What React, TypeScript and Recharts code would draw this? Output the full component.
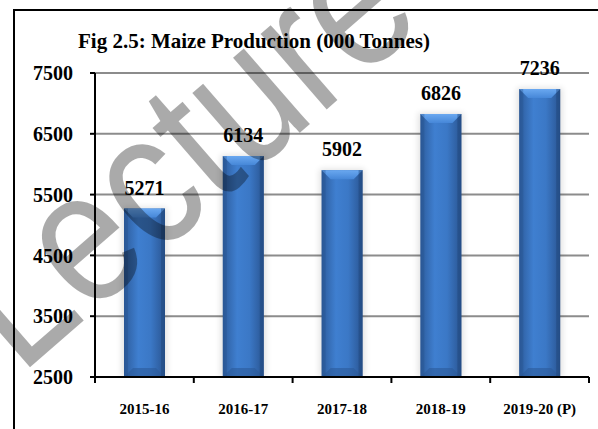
import { BarChart, Bar, XAxis, YAxis, CartesianGrid, LabelList } from "recharts"

const categories = ["2015-16", "2016-17", "2017-18", "2018-19", "2019-20 (P)"]
const production = [5271, 6134, 5902, 6826, 7236]
const yTicks = [2500, 3500, 4500, 5500, 6500, 7500]

const data = categories.map((year, i) => ({ year, value: production[i] }))

const W = 598
const H = 429
const PLOT_LEFT = 95
const PLOT_RIGHT = 589
const serif = "'Liberation Serif', 'Times New Roman', serif"

function BevelBar(props: any) {
  const { x, y, width, height } = props
  if (!height || height <= 0) return null
  const b = Math.min(9, height / 2)
  const s = 4
  return (
    <g>
      <rect x={x - 2} y={y - 1} width={width + 4} height={height + 1} fill="#000" opacity={0.12} filter="url(#barShadow)" />
      <rect x={x} y={y} width={width} height={height} fill="url(#barBody)" />
      <polygon points={`${x},${y} ${x + width},${y} ${x + width - b},${y + b} ${x + b},${y + b}`} fill="url(#barTop)" />
      <polygon points={`${x},${y + height} ${x + width},${y + height} ${x + width - b},${y + height - b} ${x + b},${y + height - b}`} fill="#2b5a9a" opacity={0.6} />
      <rect x={x} y={y} width={s} height={height} fill="#244f8a" opacity={0.35} />
      <rect x={x + width - s} y={y} width={s} height={height} fill="#1f4478" opacity={0.45} />
    </g>
  )
}

function XTick(props: any) {
  const { x, y, payload, index } = props
  const band = (PLOT_RIGHT - PLOT_LEFT) / categories.length
  const axisY = y - 26
  return (
    <g>
      <line x1={x - band / 2} x2={x - band / 2} y1={axisY} y2={axisY + 6} stroke="#000" strokeWidth={2} />
      {index === categories.length - 1 && (
        <line x1={x + band / 2} x2={x + band / 2} y1={axisY} y2={axisY + 6} stroke="#000" strokeWidth={2} />
      )}
      <text x={x} y={y} dy="0.71em" textAnchor="middle" fontFamily={serif} fontWeight="bold" fontSize={15} fill="#000">
        {payload.value}
      </text>
    </g>
  )
}

export default function App() {
  return (
    <div style={{ position: "absolute", left: 0, top: 0, width: W, height: H, background: "#fff", overflow: "hidden" }}>
      <div
        style={{
          position: "absolute",
          left: 13,
          top: 9,
          width: W,
          height: H,
          borderLeft: "2px solid #000",
          borderTop: "2px solid #000",
        }}
      />
      <div
        style={{
          position: "absolute",
          left: 78,
          top: 29,
          fontFamily: serif,
          fontWeight: "bold",
          fontSize: 21,
          whiteSpace: "nowrap",
          color: "#000",
        }}
      >
        Fig 2.5: Maize Production (000 Tonnes)
      </div>
      <div style={{ position: "absolute", left: 0, top: 0 }}>
        <BarChart width={W} height={H} data={data} margin={{ top: 73, right: W - PLOT_RIGHT, left: 15, bottom: 22 }}>
          <defs>
            <linearGradient id="barBody" x1="0" y1="0" x2="1" y2="0">
              <stop offset="0%" stopColor="#2d5c9c" />
              <stop offset="35%" stopColor="#3f7fd0" />
              <stop offset="65%" stopColor="#3b78c6" />
              <stop offset="100%" stopColor="#2a5592" />
            </linearGradient>
            <linearGradient id="barTop" x1="0" y1="0" x2="0" y2="1">
              <stop offset="0%" stopColor="#6aa8f0" />
              <stop offset="100%" stopColor="#4687d8" />
            </linearGradient>
            <filter id="barShadow" x="-30%" y="-10%" width="160%" height="120%">
              <feGaussianBlur stdDeviation="3" />
            </filter>
          </defs>
          <CartesianGrid horizontal vertical={false} stroke="#8c8c8c" strokeWidth={2} />
          <XAxis
            dataKey="year"
            axisLine={{ stroke: "#000", strokeWidth: 2 }}
            tickLine={false}
            tick={<XTick />}
            tickMargin={20}
            tickSize={6}
            height={30}
            interval={0}
          />
          <YAxis
            type="number"
            domain={[2500, 7500]}
            ticks={yTicks}
            width={80}
            axisLine={{ stroke: "#000", strokeWidth: 2 }}
            tickLine={{ stroke: "#000", strokeWidth: 2 }}
            tickSize={5}
            tickMargin={17}
            tick={{ fontFamily: serif, fontWeight: "bold", fontSize: 20, fill: "#000" }}
            allowDataOverflow
          />
          <Bar dataKey="value" barSize={41} shape={<BevelBar />} isAnimationActive={false}>
            <LabelList
              dataKey="value"
              position="top"
              offset={14}
              style={{ fontFamily: serif, fontWeight: "bold", fontSize: 20, fill: "#000" }}
            />
          </Bar>
        </BarChart>
      </div>
      <svg width={W} height={H} style={{ position: "absolute", left: 0, top: 0, pointerEvents: "none" }}>
        <text
          x={0}
          y={0}
          transform="translate(20 376) rotate(-41) scale(0.85 1)"
          fontFamily="'Liberation Sans', Arial, sans-serif"
          fontSize={190}
          fill="#000"
          opacity={0.33}
        >
          Lecture
        </text>
      </svg>
    </div>
  )
}
